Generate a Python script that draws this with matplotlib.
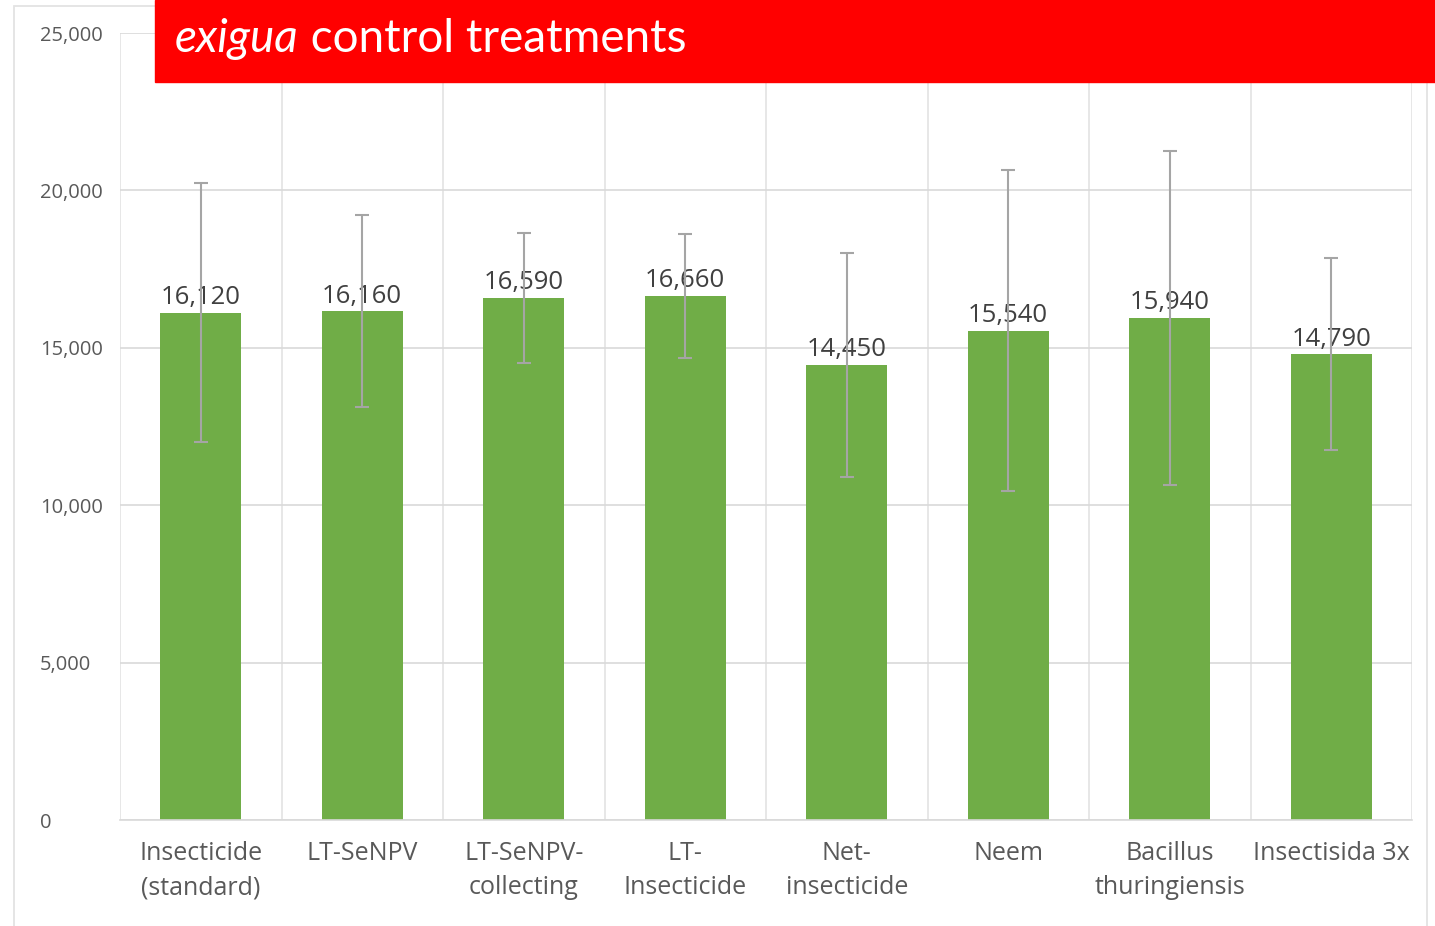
import matplotlib
matplotlib.use("Agg")
import matplotlib.pyplot as plt
from matplotlib.patches import Rectangle
from matplotlib.ticker import FuncFormatter, MultipleLocator

categories = ["Insecticide\n(standard)", "LT-SeNPV", "LT-SeNPV-\ncollecting", "LT-\nInsecticide",
              "Net-\ninsecticide", "Neem", "Bacillus\nthuringiensis", "Insectisida 3x"]
values = [16120, 16160, 16590, 16660, 14450, 15540, 15940, 14790]
errors = [4100, 3050, 2060, 1970, 3570, 5100, 5300, 3050]
y_ticks = [0, 5000, 10000, 15000, 20000, 25000]

W, H = 1435, 926
fig = plt.figure(figsize=(W / 100, H / 100), dpi=100)
fig.patch.set_facecolor("white")

# outer chart border (bottom runs past the image edge)
fig.patches.append(Rectangle((14 / W, -0.02), (1427 - 14) / W, 1.02 - 6 / H,
                             transform=fig.transFigure, fill=False, edgecolor="#E3E3E3", lw=1.3))

ax = fig.add_axes([120 / W, 1 - 820 / H, (1412 - 120) / W, (820 - 33) / H])
x = list(range(len(categories)))
ax.bar(x, values, width=0.5, color="#70AD47", zorder=2)
ax.errorbar(x, values, yerr=errors, fmt="none", ecolor="#A5A5A5", elinewidth=1.5,
            capsize=4.8, capthick=1.5, zorder=4)
for xi, v in zip(x, values):
    ax.annotate(f"{v:,}", xy=(xi, v), xytext=(0, 2), textcoords="offset points",
                ha="center", va="bottom", fontsize=18.5, color="#404040",
                family="Open Sans", zorder=3)

ax.set_xlim(-0.5, len(categories) - 0.5)
ax.set_ylim(0, 25000)
ax.set_yticks(y_ticks)
ax.yaxis.set_major_formatter(FuncFormatter(lambda v, p: f"{int(v):,}"))
ax.set_xticks(x)
ax.set_xticklabels(categories, fontsize=18, color="#595959", family="Open Sans", linespacing=1.5)
ax.tick_params(axis="x", length=0, pad=15)
ax.tick_params(axis="y", length=0, pad=(120 - 40) * 0.72)
for lab in ax.get_yticklabels():
    lab.set_fontsize(14.5)
    lab.set_color("#595959")
    lab.set_family("Open Sans")
    lab.set_horizontalalignment("left")
ax.grid(axis="y", color="#D9D9D9", lw=1.2, zorder=0)
ax.xaxis.set_minor_locator(MultipleLocator(1, offset=0.5))
ax.tick_params(axis="x", which="minor", length=0)
ax.grid(axis="x", which="minor", color="#E3E3E3", lw=1.2, zorder=0)
ax.grid(axis="x", which="major", visible=False)
for s in ["top", "right", "left"]:
    ax.spines[s].set_visible(False)
ax.spines["bottom"].set_color("#D9D9D9")
ax.spines["bottom"].set_linewidth(1.2)
ax.set_axisbelow(True)

# red title banner
fig.patches.append(Rectangle((155 / W, 1 - 82 / H), (W - 155) / W, 82 / H,
                             transform=fig.transFigure, color="#FF0000", zorder=5))
t1 = fig.text(175 / W, 1 - 52 / H, "exigua", fontsize=33, color="white", style="italic",
              family="Lato", va="baseline", ha="left", zorder=6)
renderer = fig.canvas.get_renderer()
bb = t1.get_window_extent(renderer=renderer)
fig.text(bb.x1 / W, 1 - 52 / H, " control treatments", fontsize=33, color="white",
         family="Lato", va="baseline", ha="left", zorder=6)

fig.savefig("out.png", dpi=100)
